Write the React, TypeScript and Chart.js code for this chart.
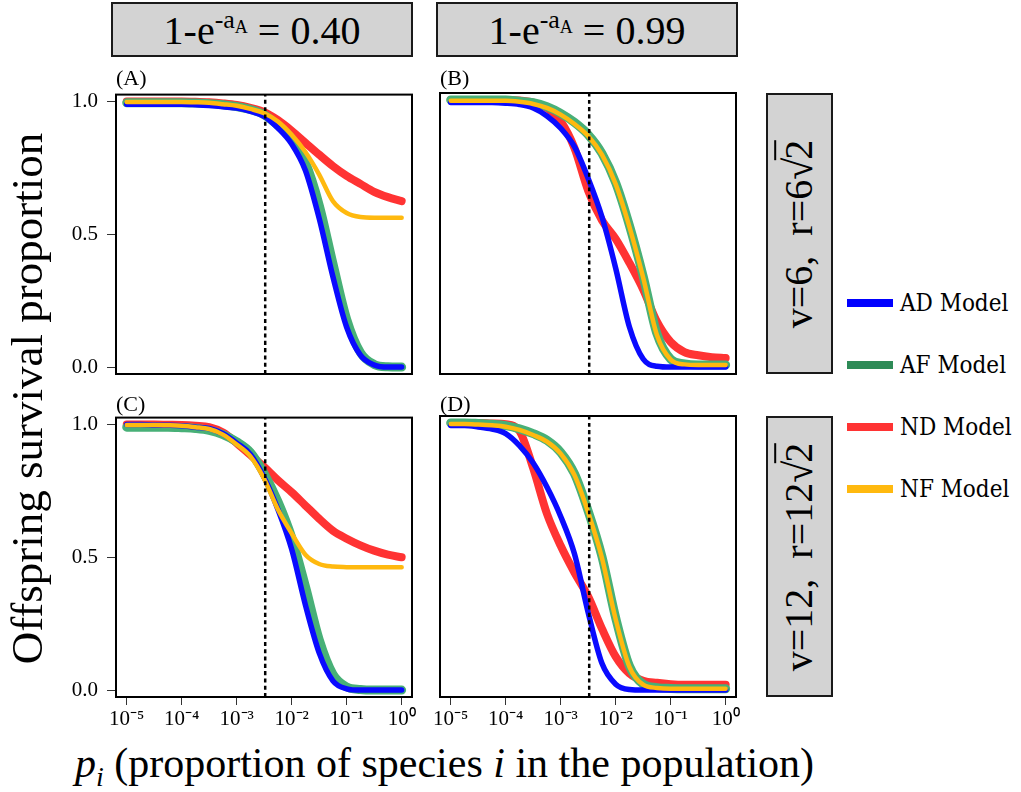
import React, { useEffect, useRef } from 'react';
import { Chart, registerables } from 'chart.js';

Chart.register(...registerables);

// ---------- data ----------
const pValues = [
  1e-5, 1.778e-5, 3.162e-5, 5.623e-5, 1e-4, 1.778e-4, 3.162e-4, 5.623e-4,
  1e-3, 1.778e-3, 3.162e-3, 5.623e-3, 1e-2, 1.778e-2, 3.162e-2, 5.623e-2,
  0.1, 0.1778, 0.3162, 0.5623, 1,
];
const xTickValues = [1e-5, 1e-4, 1e-3, 1e-2, 1e-1, 1];
const xTickLabels = ['10⁻⁵', '10⁻⁴', '10⁻³', '10⁻²', '10⁻¹', '10⁰'];
const yTickValues = [0, 0.5, 1];
const yTickLabels = ['0.0', '0.5', '1.0'];
const thresholdP = 0.0033;

const seriesNames = ['AD Model', 'AF Model', 'ND Model', 'NF Model'];
const colTitles = ['0.40', '0.99'];
const rowTitles = [['6', '6'], ['12', '12']];

// Panel A
const adA = [0.99, 0.99, 0.99, 0.99, 0.99, 0.988, 0.985, 0.98, 0.975, 0.963, 0.944, 0.9, 0.84, 0.74, 0.56, 0.34, 0.15, 0.045, 0.008, 0.0, 0.0];
const afA = [0.995, 0.995, 0.995, 0.995, 0.995, 0.994, 0.992, 0.988, 0.981, 0.97, 0.95, 0.91, 0.86, 0.77, 0.61, 0.39, 0.18, 0.055, 0.01, 0.001, 0.0];
const ndA = [1.0, 1.0, 1.0, 1.0, 1.0, 0.999, 0.997, 0.993, 0.987, 0.976, 0.96, 0.93, 0.89, 0.845, 0.8, 0.757, 0.72, 0.69, 0.66, 0.64, 0.625];
const nfA = [0.998, 0.998, 0.998, 0.998, 0.998, 0.997, 0.995, 0.99, 0.984, 0.972, 0.956, 0.925, 0.875, 0.81, 0.725, 0.625, 0.58, 0.565, 0.5625, 0.5625, 0.5625];

// Panel B
const adB = [0.99, 0.99, 0.99, 0.99, 0.988, 0.983, 0.97, 0.94, 0.894, 0.825, 0.706, 0.5625, 0.37, 0.15, 0.03, 0.003, 0.0, 0.0, 0.0, 0.0, 0.0];
const afB = [1.0, 1.0, 1.0, 1.0, 1.0, 0.995, 0.99, 0.975, 0.95, 0.916, 0.87, 0.8, 0.69, 0.53, 0.34, 0.125, 0.03, 0.012, 0.008, 0.008, 0.008];
const ndB = [1.0, 1.0, 1.0, 1.0, 1.0, 0.998, 0.99, 0.97, 0.92, 0.82, 0.66, 0.55, 0.48, 0.39, 0.29, 0.17, 0.094, 0.056, 0.044, 0.037, 0.034];
const nfB = [0.997, 0.997, 0.997, 0.997, 0.997, 0.993, 0.985, 0.97, 0.945, 0.91, 0.865, 0.795, 0.685, 0.525, 0.335, 0.12, 0.028, 0.01, 0.008, 0.008, 0.008];

// Panel C
const adC = [1.0, 1.0, 0.998, 0.997, 0.995, 0.99, 0.985, 0.965, 0.93, 0.8875, 0.8, 0.68, 0.53, 0.32, 0.14, 0.035, 0.005, 0.0, 0.0, 0.0, 0.0];
const afC = [0.99, 0.99, 0.99, 0.99, 0.988, 0.985, 0.978, 0.962, 0.935, 0.895, 0.815, 0.71, 0.575, 0.39, 0.19, 0.06, 0.012, 0.002, 0.0, 0.0, 0.0];
const ndC = [1.0, 1.0, 1.0, 0.999, 0.998, 0.995, 0.99, 0.97, 0.93, 0.885, 0.84, 0.79, 0.745, 0.695, 0.645, 0.6, 0.57, 0.545, 0.525, 0.51, 0.5];
const nfC = [0.998, 0.998, 0.998, 0.997, 0.995, 0.99, 0.983, 0.962, 0.925, 0.88, 0.795, 0.68, 0.59, 0.51, 0.475, 0.465, 0.463, 0.4625, 0.4625, 0.4625, 0.4625];

// Panel D
const adD = [0.99, 0.99, 0.985, 0.977, 0.96, 0.915, 0.85, 0.76, 0.65, 0.51, 0.29, 0.1, 0.022, 0.002, 0.0, 0.0, 0.0, 0.0, 0.0, 0.0, 0.0];
const afD = [1.0, 1.0, 0.998, 0.995, 0.99, 0.978, 0.96, 0.935, 0.89, 0.81, 0.67, 0.5, 0.27, 0.09, 0.022, 0.009, 0.006, 0.005, 0.005, 0.005, 0.005];
const ndD = [1.0, 1.0, 1.0, 0.998, 0.995, 0.97, 0.83, 0.66, 0.54, 0.44, 0.35, 0.23, 0.125, 0.062, 0.035, 0.027, 0.022, 0.02, 0.02, 0.02, 0.02];
const nfD = [0.996, 0.996, 0.994, 0.991, 0.986, 0.974, 0.955, 0.93, 0.885, 0.805, 0.665, 0.495, 0.265, 0.087, 0.02, 0.008, 0.005, 0.005, 0.005, 0.005, 0.005];

// ---------- styles ----------
const COLORS = { ad: '#0a0aff', af: '#48b077', nd: '#ff3333', nf: '#ffb90f' };
const LEGEND_COLORS = ['#0000ff', '#2e8b57', '#ff3333', '#ffb90f'];
const SERIF = '"Liberation Serif", "Times New Roman", serif';

const PADL = 70, PADT = 20, PADR = 12, PADB = 40;
const BOX_W = 296, BOX_H = 281;

const panels = [
  { label: '(A)', left: 116, top: 93, ad: adA, af: afA, nd: ndA, nf: nfA, showX: false, showY: true, labelTop: 66 },
  { label: '(B)', left: 440, top: 93, ad: adB, af: afB, nd: ndB, nf: nfB, showX: false, showY: false, labelTop: 66 },
  { label: '(C)', left: 116, top: 416, ad: adC, af: afC, nd: ndC, nf: nfC, showX: true, showY: true, labelTop: 392 },
  { label: '(D)', left: 440, top: 416, ad: adD, af: afD, nd: ndD, nf: nfD, showX: true, showY: false, labelTop: 392 },
];

const boxPlugin = {
  id: 'boxPlugin',
  afterDraw(chart: any) {
    const { ctx, chartArea } = chart;
    ctx.save();
    ctx.strokeStyle = '#000';
    ctx.lineWidth = 2;
    ctx.strokeRect(chartArea.left, chartArea.top, chartArea.right - chartArea.left, chartArea.bottom - chartArea.top);
    ctx.restore();
  },
};

function toPoints(ys: number[]) {
  return pValues.map((x, i) => ({ x, y: ys[i] }));
}

function Panel(props: any) {
  const p = props.panel;
  const ref = useRef<HTMLCanvasElement | null>(null);
  useEffect(() => {
    if (!ref.current) return;
    const lineBase = {
      pointRadius: 0,
      fill: false,
      cubicInterpolationMode: 'monotone',
      borderCapStyle: 'round',
      borderJoinStyle: 'round',
    };
    const chart = new Chart(ref.current, {
      type: 'line',
      data: {
        datasets: [
          { ...lineBase, label: 'threshold', data: [{ x: thresholdP, y: -0.026 }, { x: thresholdP, y: 1.026 }], borderColor: '#000', borderWidth: 2.5, borderDash: [4, 3.3], borderCapStyle: 'butt', order: 0 },
          { ...lineBase, label: seriesNames[3], data: toPoints(p.nf), borderColor: COLORS.nf, borderWidth: 4.5, order: 1 },
          { ...lineBase, label: seriesNames[0], data: toPoints(p.ad), borderColor: COLORS.ad, borderWidth: 5.5, order: 2 },
          { ...lineBase, label: seriesNames[1], data: toPoints(p.af), borderColor: COLORS.af, borderWidth: 9, order: 3 },
          { ...lineBase, label: seriesNames[2], data: toPoints(p.nd), borderColor: COLORS.nd, borderWidth: 8, order: 4 },
        ] as any,
      },
      options: {
        animation: false,
        responsive: false,
        maintainAspectRatio: false,
        events: [],
        layout: {
          padding: { left: 0, top: PADT, right: PADR, bottom: 0 },
        },
        plugins: { legend: { display: false }, tooltip: { enabled: false } },
        scales: {
          x: {
            type: 'logarithmic',
            display: p.showX,
            min: Math.pow(10, -5.195),
            max: Math.pow(10, 0.188),
            afterBuildTicks: (s: any) => { s.ticks = xTickValues.map((v) => ({ value: v })); },
            afterFit: (s: any) => { s.height = PADB; },
            ticks: {
              autoSkip: false,
              maxRotation: 0,
              minRotation: 0,
              padding: 2,
              color: '#000',
              font: { family: SERIF, size: 21 },
              callback: (_v: any, i: number) => xTickLabels[i],
            },
            grid: { drawOnChartArea: false, drawTicks: true, tickLength: 8, color: '#333', lineWidth: 1 },
            border: { display: false },
          },
          y: {
            type: 'linear',
            display: p.showY,
            min: -0.026,
            max: 1.026,
            afterBuildTicks: (s: any) => { s.ticks = yTickValues.map((v) => ({ value: v })); },
            afterFit: (s: any) => { s.width = PADL; },
            ticks: {
              autoSkip: false,
              padding: 9,
              color: '#000',
              font: { family: SERIF, size: 21 },
              callback: (_v: any, i: number) => yTickLabels[i],
            },
            grid: { drawOnChartArea: false, drawTicks: true, tickLength: 9, color: '#333', lineWidth: 1 },
            border: { display: false },
          },
        },
      } as any,
      plugins: [boxPlugin],
    });
    return () => chart.destroy();
  }, []);
  const w = PADL + BOX_W + PADR;
  const h = PADT + BOX_H + PADB;
  return (
    <>
      <canvas
        ref={ref}
        width={w}
        height={h}
        style={{ position: 'absolute', left: p.left - PADL, top: p.top - PADT, width: w, height: h }}
      />
      <div style={{ position: 'absolute', left: p.left, top: p.labelTop, fontFamily: SERIF, fontSize: 22, lineHeight: '24px', color: '#000' }}>
        {p.label}
      </div>
    </>
  );
}

const stripStyle: any = {
  position: 'absolute',
  boxSizing: 'border-box',
  background: '#d3d3d3',
  border: '2.5px solid #1a1a1a',
  display: 'flex',
  alignItems: 'center',
  justifyContent: 'center',
  fontFamily: SERIF,
  color: '#000',
  overflow: 'visible',
};

function ColStrip(props: { left: number; value: string }) {
  return (
    <div style={{ ...stripStyle, left: props.left, top: 2, width: 302, height: 55, fontSize: 40 }}>
      <span style={{ whiteSpace: 'nowrap', lineHeight: 1 }}>
        1-e
        <span style={{ fontSize: 26, verticalAlign: '0.62em' }}>
          -a<span style={{ fontSize: 18, verticalAlign: '-0.25em' }}>A</span>
        </span>
        {' = ' + props.value}
      </span>
    </div>
  );
}

function RowStrip(props: { top: number; v: string; r: string }) {
  return (
    <div style={{ ...stripStyle, left: 766, top: props.top, width: 67, height: BOX_H, fontSize: 40 }}>
      <div style={{ transform: 'rotate(-90deg)', whiteSpace: 'nowrap', flexShrink: 0, lineHeight: 1 }}>
        {'v=' + props.v + ',\u00a0 r=' + props.r + '√'}
        <span style={{ borderTop: '2px solid #000', paddingTop: 0, marginLeft: -2 }}>2</span>
      </div>
    </div>
  );
}

function Legend() {
  const ys = [303, 365, 427, 489];
  return (
    <>
      {seriesNames.map((name, i) => (
        <React.Fragment key={name}>
          <div style={{ position: 'absolute', left: 847, top: ys[i] - 4, width: 46, height: 8, background: LEGEND_COLORS[i] }} />
          <div style={{ position: 'absolute', left: 900, top: ys[i] - 15, fontFamily: '"DejaVu Serif Condensed", "DejaVu Serif", serif', fontStretch: 'condensed', fontSize: 24, lineHeight: '30px', color: '#000', whiteSpace: 'nowrap' }}>
            {name}
          </div>
        </React.Fragment>
      ))}
    </>
  );
}

export default function App() {
  return (
    <div style={{ position: 'absolute', left: 0, top: 0, width: 1021, height: 792, background: '#fff', overflow: 'hidden' }}>
      <ColStrip left={111} value={colTitles[0]} />
      <ColStrip left={436} value={colTitles[1]} />
      {panels.map((p) => (
        <Panel key={p.label} panel={p} />
      ))}
      <RowStrip top={93} v={rowTitles[0][0]} r={rowTitles[0][1]} />
      <RowStrip top={416} v={rowTitles[1][0]} r={rowTitles[1][1]} />
      <Legend />
      <div style={{ position: 'absolute', left: 0, top: 103, width: 56, height: 590, display: 'flex', alignItems: 'center', justifyContent: 'center' }}>
        <div style={{ transform: 'rotate(-90deg)', whiteSpace: 'nowrap', flexShrink: 0, fontFamily: SERIF, fontSize: 45, lineHeight: 1, color: '#000' }}>
          Offspring survival proportion
        </div>
      </div>
      <div style={{ position: 'absolute', left: 0, top: 738, width: 889, textAlign: 'center', fontFamily: SERIF, fontSize: 42, lineHeight: '50px', color: '#000', whiteSpace: 'nowrap' }}>
        <i>p</i>
        <sub style={{ fontSize: 28, fontStyle: 'italic' }}>i</sub>
        {' (proportion of species '}
        <i>i</i>
        {' in the population)'}
      </div>
    </div>
  );
}
